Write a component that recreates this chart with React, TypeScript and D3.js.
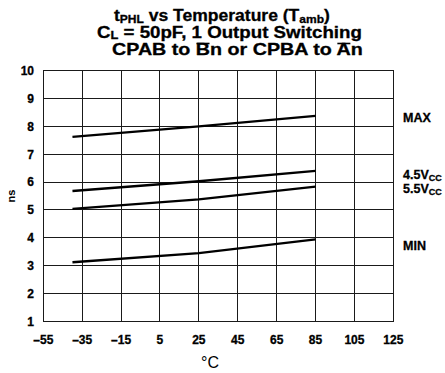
import React, { useLayoutEffect, useRef, useState } from 'react';
import * as d3 from 'd3';

// temperature points (°C) where the curves were read
const temps = [-40, 25, 85];
const maxNs = [7.62, 8.0, 8.38];
const v45Ns = [5.68, 6.03, 6.4];
const v55Ns = [5.04, 5.38, 5.84];
const minNs = [3.12, 3.45, 3.94];

const xTicks = [-55, -35, -15, 5, 25, 45, 65, 85, 105, 125];
const yTicks = [1, 2, 3, 4, 5, 6, 7, 8, 9, 10];

const seriesList = [
  { key: 'max', values: maxNs },
  { key: 'v45', values: v45Ns },
  { key: 'v55', values: v55Ns },
  { key: 'min', values: minNs },
];

const font = '"Liberation Sans", Arial, Helvetica, sans-serif';

// third title line, with the letters that carry a bar (index in the string)
const title3 = 'CPAB to Bn or CPBA to An';
const barred = [8, 22];

// title line boxes: left edge, baseline, width
const titleBox = [
  { x: 114, y: 20.5, w: 216 },
  { x: 97, y: 37.5, w: 265 },
  { x: 112, y: 55, w: 251 },
];

export default function App() {
  const refs = [useRef<SVGTextElement>(null), useRef<SVGTextElement>(null), useRef<SVGTextElement>(null)];
  const [scales, setScales] = useState([1, 1, 1]);
  const [bars, setBars] = useState<{ x1: number; x2: number; y: number }[]>([]);

  const margin = { top: 70.7, left: 43.3, right: 393.3, bottom: 321.3 };

  const x = d3.scaleLinear().domain([-55, 125]).range([margin.left, margin.right]);
  const y = d3.scaleLinear().domain([1, 10]).range([margin.bottom, margin.top]);

  const line = d3
    .line<[number, number]>()
    .x((d) => x(d[0]))
    .y((d) => y(d[1]));

  const fmt = (v: number) => (v < 0 ? '\u2013' + Math.abs(v) : String(v));

  // stretch each title line to the reference width, and place the overlines
  useLayoutEffect(() => {
    const s = refs.map((r, i) => {
      const el = r.current;
      if (!el) return 1;
      const w = el.getBBox().width;
      return w > 0 ? titleBox[i].w / w : 1;
    });
    setScales(s);
    const el3 = refs[2].current;
    if (el3) {
      setBars(
        barred.map((i) => {
          const r = el3.getExtentOfChar(i);
          return { x1: r.x + 0.5, x2: r.x + r.width - 0.5, y: r.y + 2.5 };
        })
      );
    }
  }, []);

  return (
    <svg
      width={445}
      height={373}
      style={{ position: 'absolute', left: 0, top: 0, background: '#fff' }}
      fontFamily={font}
    >
      {/* titles */}
      <g fontWeight="bold" fontSize={16} fill="#000" stroke="#000" strokeWidth={0.3}>
        <g transform={`translate(${titleBox[0].x},${titleBox[0].y}) scale(${scales[0]},1)`}>
          <text ref={refs[0]} x={0} y={0}>
            t<tspan fontSize={11} dy={2}>PHL</tspan>
            <tspan dy={-2}> vs Temperature (T</tspan>
            <tspan fontSize={11} dy={2}>amb</tspan>
            <tspan dy={-2}>)</tspan>
          </text>
        </g>
        <g transform={`translate(${titleBox[1].x},${titleBox[1].y}) scale(${scales[1]},1)`}>
          <text ref={refs[1]} x={0} y={0}>
            C<tspan fontSize={11} dy={1.5}>L</tspan>
            <tspan dy={-1.5}> = 50pF, 1 Output Switching</tspan>
          </text>
        </g>
        <g transform={`translate(${titleBox[2].x},${titleBox[2].y}) scale(${scales[2]},1)`}>
          <text ref={refs[2]} x={0} y={0}>
            {title3}
          </text>
          <g strokeWidth={1.6}>
            {bars.map((b, i) => (
              <line key={'bar' + i} x1={b.x1} x2={b.x2} y1={b.y} y2={b.y} />
            ))}
          </g>
        </g>
      </g>

      {/* grid */}
      <g stroke="#1a1a1a" shapeRendering="crispEdges" strokeWidth={1}>
        {yTicks.map((t) => (
          <line key={'h' + t} x1={margin.left} x2={margin.right} y1={y(t)} y2={y(t)} />
        ))}
        {xTicks.map((t) => (
          <line key={'v' + t} x1={x(t)} x2={x(t)} y1={margin.top} y2={margin.bottom} />
        ))}
        <rect
          x={margin.left}
          y={margin.top}
          width={margin.right - margin.left}
          height={margin.bottom - margin.top}
          fill="none"
        />
      </g>

      {/* curves */}
      <g fill="none" stroke="#000" strokeWidth={2.3}>
        {seriesList.map((s) => (
          <path key={s.key} d={line(temps.map((t, i) => [t, s.values[i]]))!} />
        ))}
      </g>

      {/* y tick labels */}
      <g fontWeight="bold" fontSize={12} textAnchor="end" stroke="#000" strokeWidth={0.3}>
        {yTicks.map((t) => (
          <text key={'yl' + t} x={34} y={y(t)} dy="0.36em">
            {t}
          </text>
        ))}
      </g>
      <text
        transform={`translate(15,${y(5.5)}) rotate(-90)`}
        textAnchor="middle"
        fontWeight="bold"
        fontSize={11}
      >
        ns
      </text>

      {/* x tick labels */}
      <g fontWeight="bold" fontSize={12} textAnchor="middle" stroke="#000" strokeWidth={0.3}>
        {xTicks.map((t) => (
          <text key={'xl' + t} x={x(t)} y={343.5}>
            {fmt(t)}
          </text>
        ))}
      </g>
      <text x={210} y={368} textAnchor="middle" fontSize={16}>
        °C
      </text>

      {/* right labels */}
      <g fontWeight="bold" fontSize={12.5} stroke="#000" strokeWidth={0.3}>
        <text x={403} y={121.5}>MAX</text>
        <text x={403} y={179}>
          4.5V<tspan fontSize={9} dy={2}>CC</tspan>
        </text>
        <text x={403} y={193}>
          5.5V<tspan fontSize={9} dy={2}>CC</tspan>
        </text>
        <text x={403} y={249.5}>MIN</text>
      </g>
    </svg>
  );
}
